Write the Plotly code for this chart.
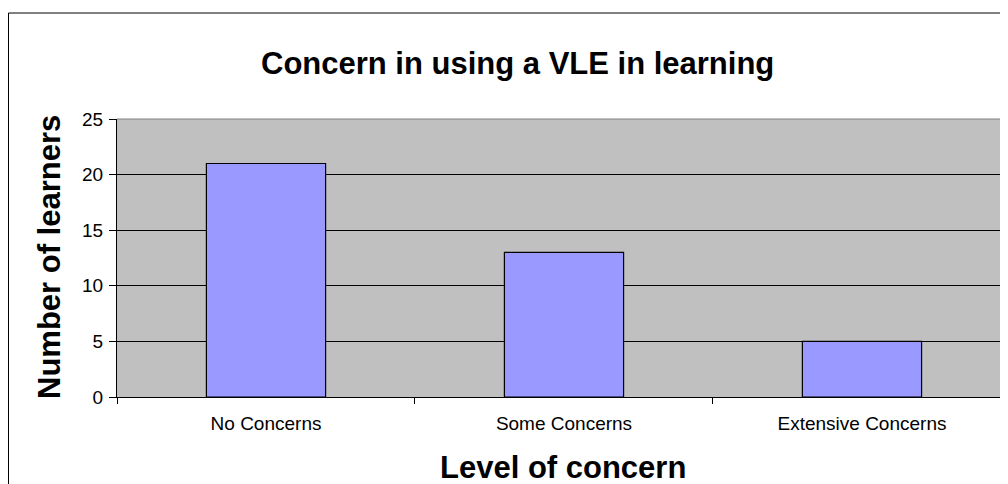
import plotly.graph_objects as go

categories = ["No Concerns", "Some Concerns", "Extensive Concerns"]
learners = [21, 13, 5]
y_ticks = [0, 5, 10, 15, 20, 25]

chart_title = "Concern in using a VLE in learning"
x_title = "Level of concern"
y_title = "Number of learners"

FONT = "Liberation Sans, Arial, sans-serif"

# page body has an 8px margin; the figure starts at screen (8, 8)
OFF = 8
W, H = 1000, 476
L, R, T, B = 109, 0, 111, 87
pw = W - L - R
ph = H - T - B

def px(xs):
    return (xs - OFF - L) / pw

def py(ys):
    return (H - B - (ys - OFF)) / ph

fig = go.Figure()
fig.add_trace(go.Bar(
    x=categories, y=learners,
    marker=dict(color="#9999FF", line=dict(color="#000000", width=1.2)),
    hoverinfo="x+y",
))

fig.update_layout(
    width=W, height=H,
    margin=dict(l=L, r=R, t=T, b=B, pad=0),
    paper_bgcolor="#FFFFFF",
    plot_bgcolor="#C0C0C0",
    bargap=0.6,
    showlegend=False,
    font=dict(family=FONT, color="#000000", size=19),
    xaxis=dict(
        type="category",
        range=[-0.5, 2.49],
        tickson="boundaries",
        ticks="outside", ticklen=6, tickcolor="#000000", tickwidth=1,
        ticklabelstandoff=9,
        showline=True, linecolor="#000000", linewidth=1,
        showgrid=False, zeroline=False,
        tickfont=dict(family=FONT, size=19, color="#000000"),
    ),
    yaxis=dict(
        range=[0, 25],
        tickvals=y_ticks,
        ticks="outside", ticklen=7, tickcolor="#000000", tickwidth=1,
        ticklabelstandoff=2,
        showline=True, linecolor="#000000", linewidth=1,
        showgrid=True, gridcolor="#000000", gridwidth=1,
        zeroline=False,
        tickfont=dict(family=FONT, size=19, color="#000000"),
    ),
    shapes=[
        dict(type="line", xref="paper", yref="paper", x0=0, x1=1.01, y0=1, y1=1,
             line=dict(color="#808080", width=1)),
        dict(type="rect", xref="paper", yref="paper",
             x0=px(8.5), x1=px(1016), y0=py(13), y1=py(495),
             line=dict(color="#000000", width=1), fillcolor="rgba(0,0,0,0)"),
    ],
    annotations=[
        dict(text="<b>" + chart_title + "</b>", xref="paper", yref="paper",
             x=px(517), y=py(64), xanchor="center", yanchor="middle",
             showarrow=False, font=dict(family=FONT, size=31, color="#000000")),
        dict(text="<b>" + x_title + "</b>", xref="paper", yref="paper",
             x=px(563), y=py(467), xanchor="center", yanchor="middle",
             showarrow=False, font=dict(family=FONT, size=31, color="#000000")),
        dict(text="<b>" + y_title + "</b>", xref="paper", yref="paper",
             x=px(49), y=py(257), xanchor="center", yanchor="middle", textangle=-90,
             showarrow=False, font=dict(family=FONT, size=31, color="#000000")),
    ],
)

fig.write_html("out.html")
